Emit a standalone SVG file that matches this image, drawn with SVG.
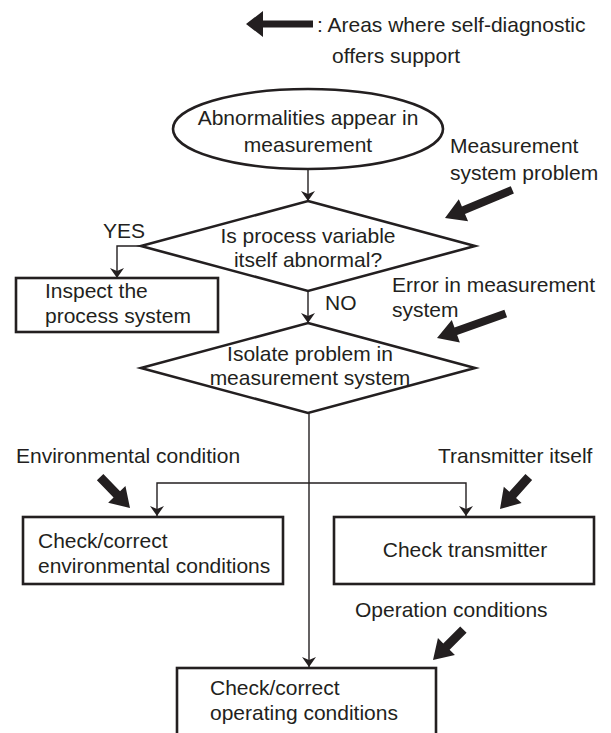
<svg xmlns="http://www.w3.org/2000/svg" width="611" height="733" viewBox="0 0 611 733">
<style>
text{font-family:"Liberation Sans",Arial,sans-serif;font-size:21px;fill:#231f20}
.c{text-anchor:middle}
.shape{fill:#fff;stroke:#231f20;stroke-width:2.6}
.conn{fill:none;stroke:#231f20;stroke-width:1.4}
.big{fill:#231f20}
</style>
<defs>
<marker id="ah" viewBox="0 0 10 14" refX="10" refY="7" markerWidth="10" markerHeight="14" markerUnits="userSpaceOnUse" orient="auto">
<path d="M0,0 L10,7 L0,14 L3,7 Z" fill="#231f20"/>
</marker>
<path id="legendArrow" d="M0,0 L17,-13 L17,-3.5 L67,-3.5 L67,3.5 L17,3.5 L17,13 Z"/>
<path id="longArrow" d="M0,0 L20,-12 L20,-4 L73,-4 L73,4 L20,4 L20,12 Z"/>
<path id="shortArrow" d="M0,0 L19,-12 L19,-4.5 L43,-4.5 L43,4.5 L19,4.5 L19,12 Z"/>
</defs>
<rect width="611" height="733" fill="#fff"/>

<g id="legend">
<use href="#legendArrow" class="big" transform="translate(246,24)"/>
<text x="317" y="32">: Areas where self-diagnostic</text>
<text x="332" y="63">offers support</text>
</g>

<g id="connectors">
<line class="conn" x1="308" y1="169" x2="308" y2="201" marker-end="url(#ah)"/>
<polyline class="conn" points="141,246 117,246 117,278" marker-end="url(#ah)"/>
<line class="conn" x1="308" y1="291" x2="308" y2="323" marker-end="url(#ah)"/>
<line class="conn" x1="309" y1="413" x2="309" y2="667" marker-end="url(#ah)"/>
<polyline class="conn" points="309,483 157,483 157,516" marker-end="url(#ah)"/>
<polyline class="conn" points="309,483 466,483 466,516" marker-end="url(#ah)"/>
</g>

<g id="start">
<ellipse class="shape" cx="308" cy="129" rx="135" ry="40"/>
<text class="c" x="308" y="125">Abnormalities appear in</text>
<text class="c" x="308" y="152">measurement</text>
</g>

<g id="decision1">
<polygon class="shape" points="308,201 475,246 308,291 141,246"/>
<text class="c" x="308" y="243">Is process variable</text>
<text class="c" x="308" y="267">itself abnormal?</text>
<text x="103" y="238">YES</text>
<text x="325" y="310">NO</text>
</g>

<g id="inspect">
<rect class="shape" x="16" y="278" width="202" height="54"/>
<text x="45" y="298">Inspect the</text>
<text x="45" y="323">process system</text>
</g>

<g id="decision2">
<polygon class="shape" points="308,323 475,368 308,413 141,368"/>
<text class="c" x="310" y="361">Isolate problem in</text>
<text class="c" x="310" y="385">measurement system</text>
</g>

<g id="env">
<rect class="shape" x="23" y="517" width="260" height="67"/>
<text x="38" y="548">Check/correct</text>
<text x="38" y="573">environmental conditions</text>
</g>

<g id="transmitter">
<rect class="shape" x="334" y="517" width="260" height="67"/>
<text class="c" x="465" y="557">Check transmitter</text>
</g>

<g id="operating">
<rect class="shape" x="177" y="668" width="259" height="80"/>
<text x="210" y="695">Check/correct</text>
<text x="210" y="720">operating conditions</text>
</g>

<g id="support-labels">
<text x="450" y="153">Measurement</text>
<text x="450" y="180">system problem</text>
<use href="#longArrow" class="big" transform="translate(445,218) rotate(-22.7)"/>
<text x="392" y="292">Error in measurement</text>
<text x="392" y="317">system</text>
<use href="#longArrow" class="big" transform="translate(437,338) rotate(-19.7)"/>
<text x="16" y="463">Environmental condition</text>
<use href="#shortArrow" class="big" transform="translate(130,508) rotate(-134)"/>
<text x="438" y="463">Transmitter itself</text>
<use href="#shortArrow" class="big" transform="translate(500,509) rotate(-48)"/>
<text x="355" y="617">Operation conditions</text>
<use href="#shortArrow" class="big" transform="translate(433,660) rotate(-45)"/>
</g>
</svg>
